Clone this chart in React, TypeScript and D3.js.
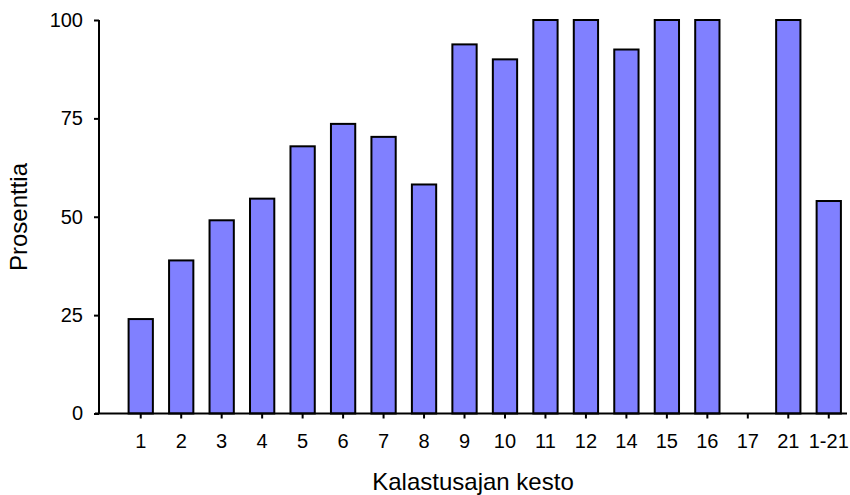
import React, { useEffect, useRef } from 'react';
import * as d3 from 'd3';

const categories = ['1', '2', '3', '4', '5', '6', '7', '8', '9', '10', '11', '12', '14', '15', '16', '17', '21', '1-21'];
const values = [24.0, 38.9, 49.1, 54.6, 67.9, 73.6, 70.3, 58.2, 93.8, 90.0, 100, 100, 92.5, 100, 100, 0, 100, 54.0];
const yTicks = [0, 25, 50, 75, 100];

export default function App() {
  const svgRef = useRef<SVGSVGElement>(null);

  useEffect(() => {
    if (!svgRef.current) return;
    const svg = d3.select(svgRef.current);
    svg.selectAll('*').remove();

    const width = 850;
    const height = 495;
    const font = 'Arial, "Liberation Sans", sans-serif';
    svg.attr('width', width).attr('height', height);

    const x = d3
      .scaleBand()
      .domain(categories)
      .range([120.5, 849])
      .paddingInner(0.4)
      .paddingOuter(0.2);

    const y = d3.scaleLinear().domain([0, 100]).range([413.5, 20]);

    // Bars (the empty category gets no bar)
    const data = categories.map((c, i) => ({ c, v: values[i] })).filter((d) => d.v > 0);
    svg
      .append('g')
      .selectAll('rect')
      .data(data)
      .enter()
      .append('rect')
      .attr('x', (d) => x(d.c)!)
      .attr('y', (d) => y(d.v))
      .attr('width', x.bandwidth())
      .attr('height', (d) => y(0) - y(d.v))
      .attr('fill', '#8080FF')
      .attr('stroke', '#000')
      .attr('stroke-width', 2);

    // Y axis
    const yAxis = svg
      .append('g')
      .attr('transform', 'translate(99,0)')
      .call(d3.axisLeft(y).tickValues(yTicks).tickSize(5).tickPadding(11));
    yAxis.select('.domain').attr('stroke', '#000').attr('stroke-width', 2).attr('d', `M0,${y(100)}V${y(0)}`);
    yAxis.selectAll('.tick line').attr('stroke', '#000').attr('stroke-width', 2);
    yAxis.selectAll('text').attr('font-family', font).attr('font-size', 20).attr('fill', '#000');

    // X axis
    const xAxis = svg
      .append('g')
      .attr('transform', `translate(0,${y(0)})`)
      .call(d3.axisBottom(x).tickSize(5).tickPadding(15));
    xAxis.select('.domain').attr('stroke', '#000').attr('stroke-width', 2).attr('d', 'M95,0H847');
    xAxis.selectAll('.tick line').attr('stroke', '#000').attr('stroke-width', 2);
    xAxis.selectAll('text').attr('font-family', font).attr('font-size', 20).attr('fill', '#000');

    // Axis titles
    svg
      .append('text')
      .attr('x', 473)
      .attr('y', 490)
      .attr('text-anchor', 'middle')
      .attr('font-family', font)
      .attr('font-size', 24)
      .text('Kalastusajan kesto');

    svg
      .append('text')
      .attr('transform', 'translate(27,217) rotate(-90)')
      .attr('text-anchor', 'middle')
      .attr('font-family', font)
      .attr('font-size', 24)
      .text('Prosenttia');
  }, []);

  return (
    <div style={{ position: 'absolute', left: 0, top: 0, background: '#fff' }}>
      <svg ref={svgRef} style={{ display: 'block' }} />
    </div>
  );
}
